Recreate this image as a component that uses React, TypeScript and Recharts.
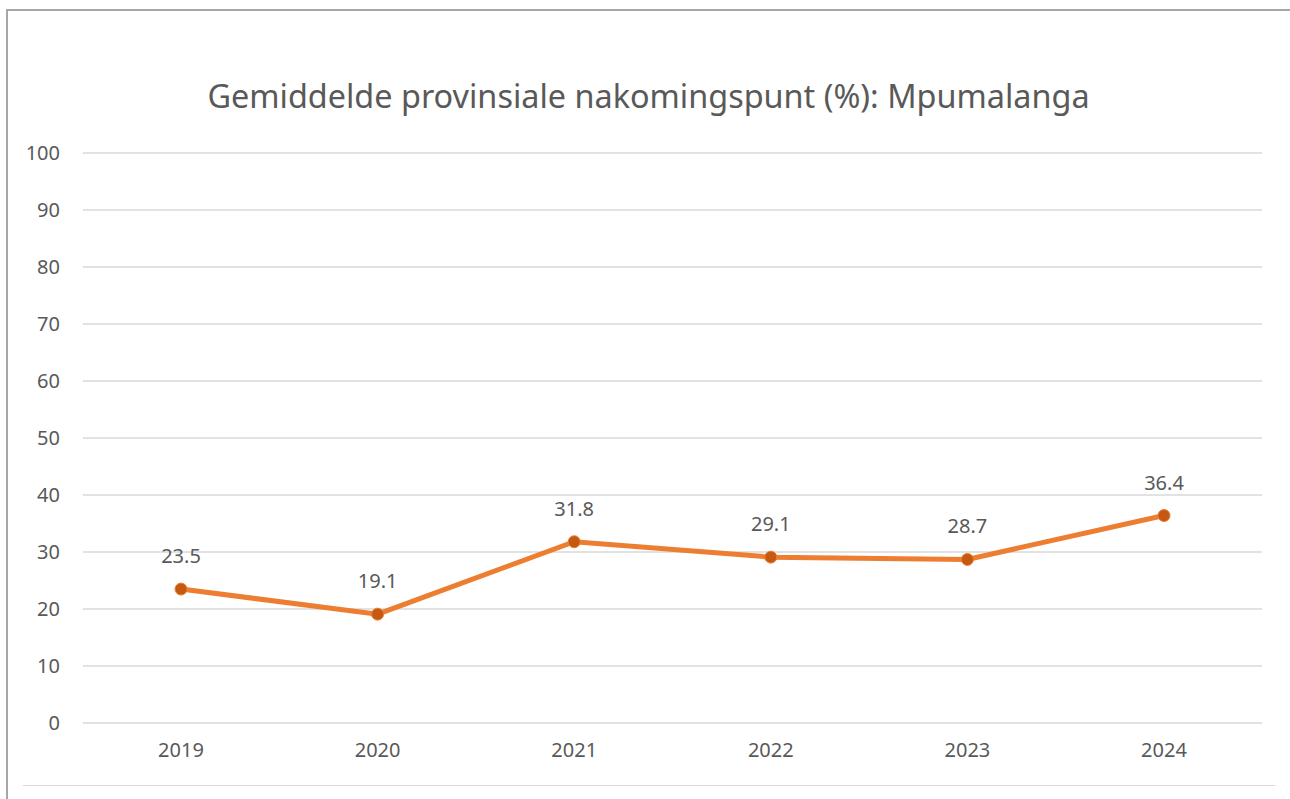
import { LineChart, Line, XAxis, YAxis, CartesianGrid, LabelList } from 'recharts';

const years = ['2019', '2020', '2021', '2022', '2023', '2024'];
const scores = [23.5, 19.1, 31.8, 29.1, 28.7, 36.4];
const yTicks = [0, 10, 20, 30, 40, 50, 60, 70, 80, 90, 100];

const data = years.map((year, i) => ({ year, score: scores[i] }));

const font = '"Noto Sans", sans-serif';
const textColor = '#595959';

export default function App() {
  return (
    <div style={{ position: 'absolute', left: 0, top: 0, width: 1290, height: 799, background: '#fff', fontFamily: font, overflow: 'hidden' }}>
      {/* frame */}
      <div style={{ position: 'absolute', left: 6, top: 9, width: 1300, height: 800, borderLeft: '2px solid #a6a6a6', borderTop: '2px solid #a6a6a6' }} />
      <div style={{ position: 'absolute', left: 23, top: 785, width: 1252, height: 1, background: '#d9d9d9' }} />
      <div
        style={{
          position: 'absolute',
          left: 0,
          width: 1297,
          top: 73,
          textAlign: 'center',
          fontSize: 32.4,
          color: textColor,
          lineHeight: '44px',
        }}
      >
        Gemiddelde provinsiale nakomingspunt (%): Mpumalanga
      </div>
      <LineChart
        width={1290}
        height={799}
        data={data}
        margin={{ top: 153, right: 28, bottom: 46, left: 0 }}
        style={{ position: 'absolute', left: 0, top: 0 }}
      >
        <CartesianGrid vertical={false} stroke="#d9d9d9" strokeWidth={1.5} />
        <XAxis
          dataKey="year"
          height={30}
          padding={{ left: 98, right: 98 }}
          axisLine={false}
          tickLine={false}
          tickSize={0}
          tickMargin={20}
          tick={{ fill: textColor, fontSize: 20, fontFamily: font }}
        />
        <YAxis
          width={83}
          domain={[0, 100]}
          ticks={yTicks}
          axisLine={false}
          tickLine={false}
          tickSize={0}
          tickMargin={23}
          tick={{ fill: textColor, fontSize: 20, fontFamily: font }}
        />
        <Line
          type="linear"
          dataKey="score"
          stroke="#ED7D31"
          strokeWidth={5}
          dot={{ r: 6, fill: '#C65911', stroke: '#ED7D31', strokeWidth: 1 }}
          activeDot={false}
          isAnimationActive={false}
        >
          <LabelList dataKey="score" position="top" offset={26} fill={textColor} fontSize={20} fontFamily={font} />
        </Line>
      </LineChart>
    </div>
  );
}
